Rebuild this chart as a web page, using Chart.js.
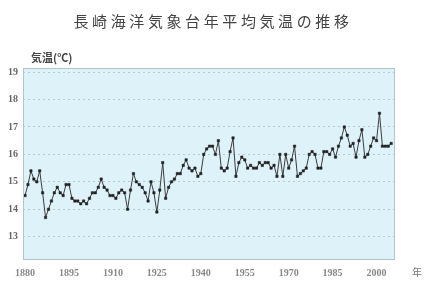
<!doctype html>
<html>
<head>
<meta charset="UTF-8">
<script src="https://cdn.jsdelivr.net/npm/chart.js"></script>
<style>
  html, body { margin: 0; padding: 0; background: #fff; }
</style>
</head>
<body>
<canvas id="temp_graph" width="436" height="282"></canvas>
<script>
// 長崎海洋気象台 年平均気温 (1880 - 2005)
const startYear = 1880;
const temps = [
  14.5, 14.9, 15.4, 15.1, 15.0, 15.4, 14.6, 13.7, 14.0, 14.3,
  14.6, 14.8, 14.6, 14.5, 14.9, 14.9, 14.4, 14.3, 14.3, 14.2,
  14.3, 14.2, 14.4, 14.6, 14.6, 14.8, 15.1, 14.8, 14.7, 14.5,
  14.5, 14.4, 14.6, 14.7, 14.6, 14.0, 14.7, 15.3, 15.0, 14.9,
  14.8, 14.6, 14.3, 15.0, 14.6, 13.9, 14.7, 15.7, 14.4, 14.8,
  15.0, 15.1, 15.3, 15.3, 15.6, 15.8, 15.5, 15.4, 15.5, 15.2,
  15.3, 16.0, 16.2, 16.3, 16.3, 16.0, 16.5, 15.5, 15.4, 15.5,
  16.1, 16.6, 15.2, 15.7, 15.9, 15.8, 15.5, 15.6, 15.5, 15.5,
  15.7, 15.6, 15.7, 15.7, 15.5, 15.6, 15.2, 16.0, 15.2, 16.0,
  15.5, 15.8, 16.3, 15.2, 15.3, 15.4, 15.5, 16.0, 16.1, 16.0,
  15.5, 15.5, 16.1, 16.1, 16.0, 16.2, 15.9, 16.3, 16.6, 17.0,
  16.7, 16.3, 16.4, 15.9, 16.5, 16.9, 15.9, 16.0, 16.3, 16.6,
  16.5, 17.5, 16.3, 16.3, 16.3, 16.4
];
const xTicks = [1880, 1895, 1910, 1925, 1940, 1955, 1970, 1985, 2000];
const yTicks = [13, 14, 15, 16, 17, 18, 19];

const titleText = '長崎海洋気象台年平均気温の推移';
const yUnitText = '気温(℃)';
const xUnitText = '年';

const points = temps.map((t, i) => ({ x: startYear + i, y: t }));

// background, frame and extra texts
const decor = {
    id: 'decor',
    beforeDraw(chart) {
        const { ctx, chartArea: a } = chart;
        ctx.save();
        ctx.fillStyle = '#def2fa';
        ctx.fillRect(a.left, a.top, a.right - a.left, a.bottom - a.top);
        ctx.restore();
    },
    afterDraw(chart) {
        const { ctx, chartArea: a } = chart;
        ctx.save();
        ctx.strokeStyle = '#b5c3cb';
        ctx.lineWidth = 1;
        ctx.strokeRect(a.left + 0.5, a.top + 0.5, a.right - a.left - 1, a.bottom - a.top - 1);

        ctx.fillStyle = '#444';
        ctx.textBaseline = 'middle';
        ctx.textAlign = 'center';
        ctx.font = '15px "Noto Sans CJK JP"';
        ctx.letterSpacing = '3.6px';
        ctx.fillText(titleText, 213, 21);

        ctx.letterSpacing = '0px';
        ctx.textAlign = 'left';
        ctx.font = 'bold 11px "Noto Sans CJK JP"';
        ctx.fillStyle = '#444';
        ctx.fillText(yUnitText, 31, 58);

        ctx.textAlign = 'center';
        ctx.font = '10px "Noto Sans CJK JP"';
        ctx.fillStyle = '#777';
        ctx.fillText(xUnitText, 417, 272);
        ctx.restore();
    }
};

new Chart(document.getElementById('temp_graph'), {
    type: 'line',
    data: {
        datasets: [{
            data: points,
            borderColor: '#3c3c3c',
            borderWidth: 1,
            tension: 0,
            pointStyle: 'rect',
            pointRadius: 1.7,
            pointBackgroundColor: '#222',
            pointBorderColor: '#222',
            pointBorderWidth: 0.5
        }]
    },
    options: {
        responsive: false,
        animation: false,
        layout: { padding: { top: 68, left: 0, right: 41, bottom: 0 } },
        plugins: {
            legend: { display: false },
            title: { display: false },
            tooltip: { enabled: false }
        },
        scales: {
            x: {
                type: 'linear',
                min: 1879.3,
                max: 2006.3,
                afterBuildTicks: s => { s.ticks = xTicks.map(v => ({ value: v })); },
                afterFit: s => { s.height = 22; },
                grid: { display: false, drawTicks: false },
                border: { display: false },
                ticks: {
                    color: '#888',
                    padding: 7,
                    maxRotation: 0,
                    autoSkip: false,
                    font: { size: 10, family: 'Liberation Serif', weight: 'bold' },
                    callback: v => String(v)
                }
            },
            y: {
                min: 12.15,
                max: 19.15,
                afterBuildTicks: s => { s.ticks = yTicks.map(v => ({ value: v })); },
                afterFit: s => { s.width = 23; },
                grid: {
                    color: 'rgba(150,165,175,0.55)',
                    lineWidth: 1,
                    drawTicks: false
                },
                border: { display: false, dash: [2, 3] },
                ticks: {
                    color: '#666',
                    padding: 5,
                    font: { size: 10, family: 'Liberation Serif', weight: 'bold' }
                }
            }
        }
    },
    plugins: [decor]
});
</script>
</body>
</html>
